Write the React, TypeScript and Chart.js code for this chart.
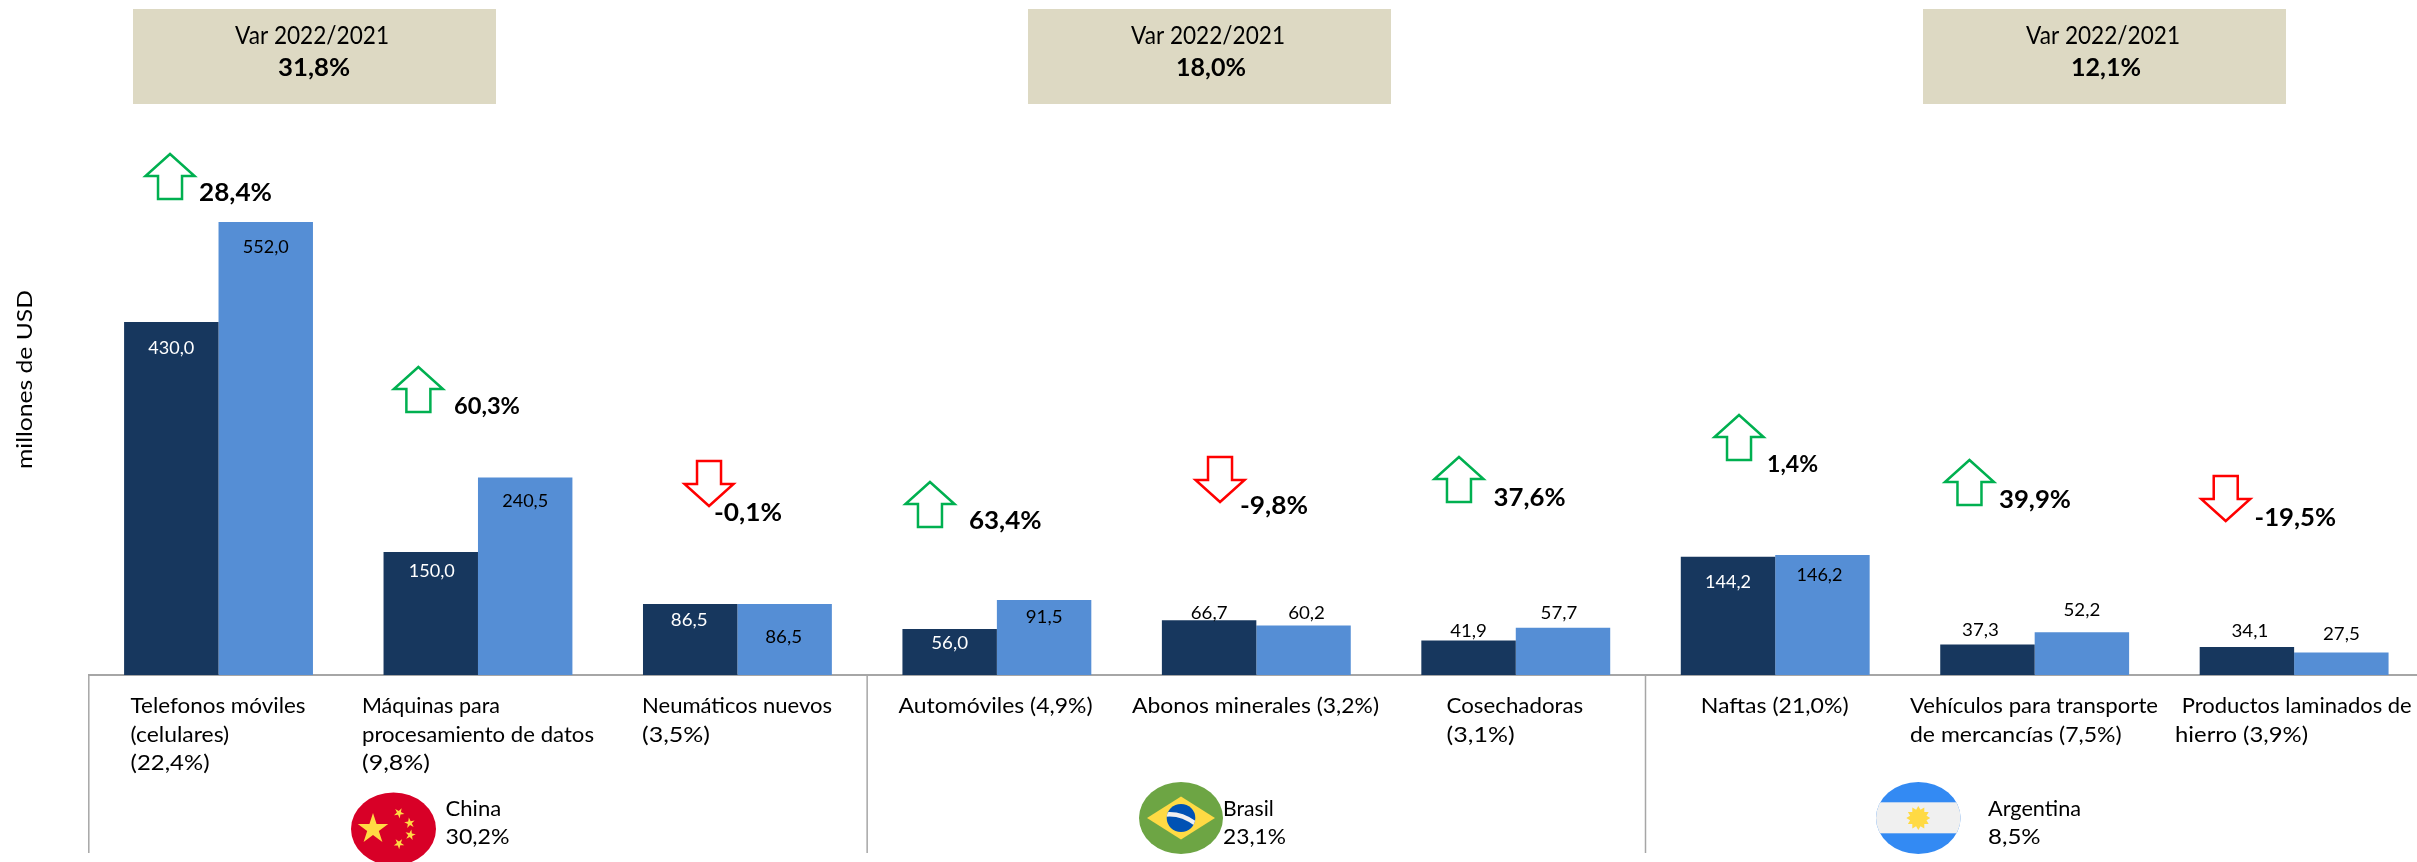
import React, { useEffect, useRef } from "react";
import { Chart, registerables } from "chart.js";

Chart.register(...registerables);

// ---------- data ----------
const categoryLines: string[][] = [
  ["Telefonos móviles", "(celulares)", "(22,4%)"],
  ["Máquinas para", "procesamiento de datos", "(9,8%)"],
  ["Neumáticos nuevos", "(3,5%)"],
  ["Automóviles (4,9%)"],
  ["Abonos minerales (3,2%)"],
  ["Cosechadoras", "(3,1%)"],
  ["Naftas (21,0%)"],
  ["Vehículos para transporte", "de mercancías (7,5%)"],
  ["Productos laminados de", "hierro (3,9%)"],
];
const values2021 = [430.0, 150.0, 86.5, 56.0, 66.7, 41.9, 144.2, 37.3, 34.1];
const values2022 = [552.0, 240.5, 86.5, 91.5, 60.2, 57.7, 146.2, 52.2, 27.5];
const productVar = ["28,4%", "60,3%", "-0,1%", "63,4%", "-9,8%", "37,6%", "1,4%", "39,9%", "-19,5%"];
const countries = ["China", "Brasil", "Argentina"];
const countryShares = ["30,2%", "23,1%", "8,5%"];
const countryVar = ["31,8%", "18,0%", "12,1%"];
const boxTitle = "Var 2022/2021";
const yTitle = "millones de USD";

// ---------- layout (pixels, relative to the category centre / the baseline) ----------
const FONT = "Lato, 'Noto Sans', sans-serif";
const CAT_DX = [-88, -116, -95.4, -98.3, -124.3, -69.2, -74.6, -124.7, -119.1];
const CAT_LINE_DX: number[][] = [[0, 0, 0], [0, 0, 0], [0, 0], [0], [0], [0, 0], [0], [0, 0], [6.7, 0]];
const CAT_WIDTH: number[][] = [
  [175, 98.7, 79],
  [138, 232, 68],
  [190, 68],
  [194],
  [247],
  [136.6, 68],
  [148],
  [248, 211.7],
  [230, 133],
];
const ARROW_DX = [-48.5, -59.6, -28.4, -66.9, -36.3, -56.8, -36.2, -65.2, -68.4];
const ARROW_TOP = [521, 308, 214, 193, 218, 218, 260, 215, 199];
const VAR_DX = [-19.5, -24, -23.4, -27.9, -16.3, -22.2, -8.2, -35.7, -39.6];
const VAR_Y = [482, 268, 162, 154, 169, 177.5, 210, 175, 157];
const VAR_SIZE = [25, 23, 25, 25, 24, 25, 23, 25, 25];
const VAR_WIDTH = [73, 66, 68, 72.6, 68, 72, 51, 72, 81.5];
const VAL_OFF_A = [26, 19, 16, 14, -7, -9, 26, -14, -16];
const VAL_OFF_B = [25, 24, 33, 17, -12, -14.5, 20, -22, -18];
const VAL_DX_A = [0, 1, -1, 0, 0, 0, 0, -7, 3];
const VAL_DX_B = [0, 0, -1, 0, 3, -4, -3, 0, 0];
const VAL_WIDTH_PER_CHAR = 9.2;
const BOX_LEFT = [133, 1028, 1923];
const BOX_TITLE_X = [312, 1208, 2103];
const BOX_VALUE_X = [314, 1211, 2106];
const BOX_VALUE_W = [72, 70, 70];
const COUNTRY_X = [445.5, 1223, 1988];
const COUNTRY_W = [55.7, 50.7, 93];
const SHARE_W = [64, 63, 52.6];

function text(
  ctx: CanvasRenderingContext2D,
  s: string,
  x: number,
  y: number,
  font: string,
  color: string,
  width: number,
  align: CanvasTextAlign = "left"
) {
  ctx.save();
  ctx.font = font;
  ctx.fillStyle = color;
  ctx.textAlign = align;
  ctx.textBaseline = "middle";
  ctx.translate(x, y);
  ctx.scale(width / ctx.measureText(s).width, 1);
  ctx.fillText(s, 0, 0);
  ctx.restore();
}

function arrow(ctx: CanvasRenderingContext2D, cx: number, top: number, up: boolean) {
  const h = 45;
  const head = 22;
  const hw = 24.5;
  const sw = 12;
  const pts = up
    ? [[0, 0], [hw, head], [sw, head], [sw, h], [-sw, h], [-sw, head], [-hw, head]]
    : [[-sw, 0], [sw, 0], [sw, h - head], [hw, h - head], [0, h], [-hw, h - head], [-sw, h - head]];
  ctx.save();
  ctx.beginPath();
  pts.forEach(([a, b], i) => (i ? ctx.lineTo(cx + a, top + b) : ctx.moveTo(cx + a, top + b)));
  ctx.closePath();
  ctx.strokeStyle = up ? "#00B050" : "#FF0000";
  ctx.lineWidth = 2.5;
  ctx.lineJoin = "miter";
  ctx.stroke();
  ctx.restore();
}

function star(ctx: CanvasRenderingContext2D, cx: number, cy: number, r: number, rot: number) {
  ctx.beginPath();
  for (let i = 0; i < 10; i++) {
    const rad = i % 2 ? r * 0.382 : r;
    const a = -Math.PI / 2 + rot + (i * Math.PI) / 5;
    const px = cx + rad * Math.cos(a);
    const py = cy + rad * Math.sin(a);
    i ? ctx.lineTo(px, py) : ctx.moveTo(px, py);
  }
  ctx.closePath();
  ctx.fill();
}

function flagChina(ctx: CanvasRenderingContext2D) {
  ctx.save();
  ctx.fillStyle = "#D80027";
  ctx.beginPath();
  ctx.ellipse(393.5, 829, 42.5, 36.5, 0, 0, Math.PI * 2);
  ctx.fill();
  ctx.fillStyle = "#FFDA44";
  star(ctx, 373, 829, 16, 0);
  star(ctx, 399, 813, 5.5, 0.5);
  star(ctx, 409.7, 823, 5.5, 1.1);
  star(ctx, 410.3, 835, 5.5, 0.2);
  star(ctx, 399, 843.7, 5.5, 0.6);
  ctx.restore();
}

function flagBrazil(ctx: CanvasRenderingContext2D) {
  const cx = 1181;
  const cy = 818;
  ctx.save();
  ctx.fillStyle = "#6DA544";
  ctx.beginPath();
  ctx.ellipse(cx, cy, 42, 36, 0, 0, Math.PI * 2);
  ctx.fill();
  ctx.fillStyle = "#FFDA44";
  ctx.beginPath();
  ctx.moveTo(cx - 34, cy);
  ctx.lineTo(cx, cy - 21.5);
  ctx.lineTo(cx + 34, cy);
  ctx.lineTo(cx, cy + 21.5);
  ctx.closePath();
  ctx.fill();
  ctx.fillStyle = "#0052B4";
  ctx.beginPath();
  ctx.ellipse(cx, cy, 14.3, 14, 0, 0, Math.PI * 2);
  ctx.fill();
  ctx.clip();
  ctx.strokeStyle = "#F0F0F0";
  ctx.lineWidth = 4.5;
  ctx.beginPath();
  ctx.moveTo(cx - 16, cy - 3.5);
  ctx.quadraticCurveTo(cx, cy - 5.5, cx + 15, cy + 6);
  ctx.stroke();
  ctx.restore();
}

function flagArgentina(ctx: CanvasRenderingContext2D) {
  const cx = 1918.3;
  const cy = 818;
  ctx.save();
  ctx.beginPath();
  ctx.ellipse(cx, cy, 42.3, 36, 0, 0, Math.PI * 2);
  ctx.clip();
  ctx.fillStyle = "#338AF3";
  ctx.fillRect(cx - 43, cy - 37, 86, 74);
  ctx.fillStyle = "#F0F0F0";
  ctx.fillRect(cx - 43, cy - 15.7, 86, 31);
  ctx.fillStyle = "#FFDA44";
  ctx.beginPath();
  for (let i = 0; i < 24; i++) {
    const r = i % 2 ? 8.5 : 12;
    const a = (i * Math.PI) / 12;
    const px = cx + r * Math.cos(a);
    const py = cy + r * Math.sin(a);
    i ? ctx.lineTo(px, py) : ctx.moveTo(px, py);
  }
  ctx.closePath();
  ctx.fill();
  ctx.restore();
}

const annotations = {
  id: "annotations",
  afterDraw(chart: any) {
    const ctx: CanvasRenderingContext2D = chart.ctx;
    const xs = chart.scales.x;
    const ys = chart.scales.y;
    const base = ys.getPixelForValue(0);
    const black = "#000000";

    // group separators below the axis
    const catW = (xs.right - xs.left) / values2021.length;
    ctx.save();
    ctx.strokeStyle = "#A6A6A6";
    ctx.lineWidth = 1.5;
    [0, 3, 6].forEach((k) => {
      const px = xs.left + k * catW;
      ctx.beginPath();
      ctx.moveTo(px, base);
      ctx.lineTo(px, base + 178);
      ctx.stroke();
    });
    ctx.restore();

    // y title
    ctx.save();
    ctx.translate(25, ys.getPixelForValue(360));
    ctx.rotate(-Math.PI / 2);
    text(ctx, yTitle, 0, 0, `22px ${FONT}`, black, 179, "center");
    ctx.restore();

    // category labels
    const catFont = `22px ${FONT}`;
    categoryLines.forEach((lines, i) => {
      const cx = xs.getPixelForValue(i);
      lines.forEach((ln, j) => {
        text(ctx, ln, cx + CAT_DX[i] + CAT_LINE_DX[i][j], base + 31 + j * 28.6, catFont, black, CAT_WIDTH[i][j]);
      });
    });

    // values
    const valFont = `18px ${FONT}`;
    [chart.getDatasetMeta(0).data, chart.getDatasetMeta(1).data].forEach((bars: any[], d: number) => {
      const vals = d === 0 ? values2021 : values2022;
      const off = d === 0 ? VAL_OFF_A : VAL_OFF_B;
      const dx = d === 0 ? VAL_DX_A : VAL_DX_B;
      bars.forEach((b, i) => {
        const color = d === 0 && off[i] > 0 ? "#FFFFFF" : black;
        const label = vals[i].toFixed(1).replace(".", ",");
        text(ctx, label, b.x + dx[i], b.y + off[i], valFont, color, label.length * VAL_WIDTH_PER_CHAR, "center");
      });
    });

    // arrows and product variation
    productVar.forEach((v, i) => {
      const cx = xs.getPixelForValue(i);
      arrow(ctx, cx + ARROW_DX[i], base - ARROW_TOP[i], !v.startsWith("-"));
      text(ctx, v, cx + VAR_DX[i], base - VAR_Y[i], `700 ${VAR_SIZE[i]}px ${FONT}`, black, VAR_WIDTH[i]);
    });

    // group boxes
    countryVar.forEach((v, i) => {
      ctx.fillStyle = "#DDD9C3";
      ctx.fillRect(BOX_LEFT[i], 9, 363, 95);
      text(ctx, boxTitle, BOX_TITLE_X[i], 36, `25px ${FONT}`, black, 154, "center");
      text(ctx, v, BOX_VALUE_X[i], 68, `700 25px ${FONT}`, black, BOX_VALUE_W[i], "center");
    });

    // countries
    flagChina(ctx);
    flagBrazil(ctx);
    flagArgentina(ctx);
    countries.forEach((c, i) => {
      text(ctx, c, COUNTRY_X[i], 809, catFont, black, COUNTRY_W[i]);
      text(ctx, countryShares[i], COUNTRY_X[i], 837, catFont, black, SHARE_W[i]);
    });
  },
};

export default function App() {
  const ref = useRef<HTMLCanvasElement>(null);
  useEffect(() => {
    const chart = new Chart(ref.current!, {
      type: "bar",
      data: {
        labels: categoryLines.map((l) => l.join(" ")),
        datasets: [
          { label: "2021", data: values2021, backgroundColor: "#17375E", categoryPercentage: 0.728, barPercentage: 1 },
          { label: "2022", data: values2022, backgroundColor: "#558ED5", categoryPercentage: 0.728, barPercentage: 1 },
        ],
      },
      options: {
        responsive: false,
        animation: false,
        devicePixelRatio: 1,
        layout: { padding: { left: 88.8, right: 6.15, top: 2, bottom: 187 } },
        plugins: { legend: { display: false }, tooltip: { enabled: false }, title: { display: false } },
        scales: {
          x: {
            afterFit: (s: any) => { s.height = 0; },
            grid: { display: false, drawTicks: false },
            ticks: { display: false },
            border: { display: true, color: "#A6A6A6", width: 2 },
          },
          y: { display: false, min: 0, max: 820 },
        },
      },
      plugins: [annotations],
    } as any);
    return () => chart.destroy();
  }, []);
  return (
    <div style={{ position: "fixed", left: 0, top: 0, width: 2417, height: 862, overflow: "hidden", background: "#fff" }}>
      <canvas ref={ref} width={2430} height={862} style={{ display: "block" }} />
    </div>
  );
}
